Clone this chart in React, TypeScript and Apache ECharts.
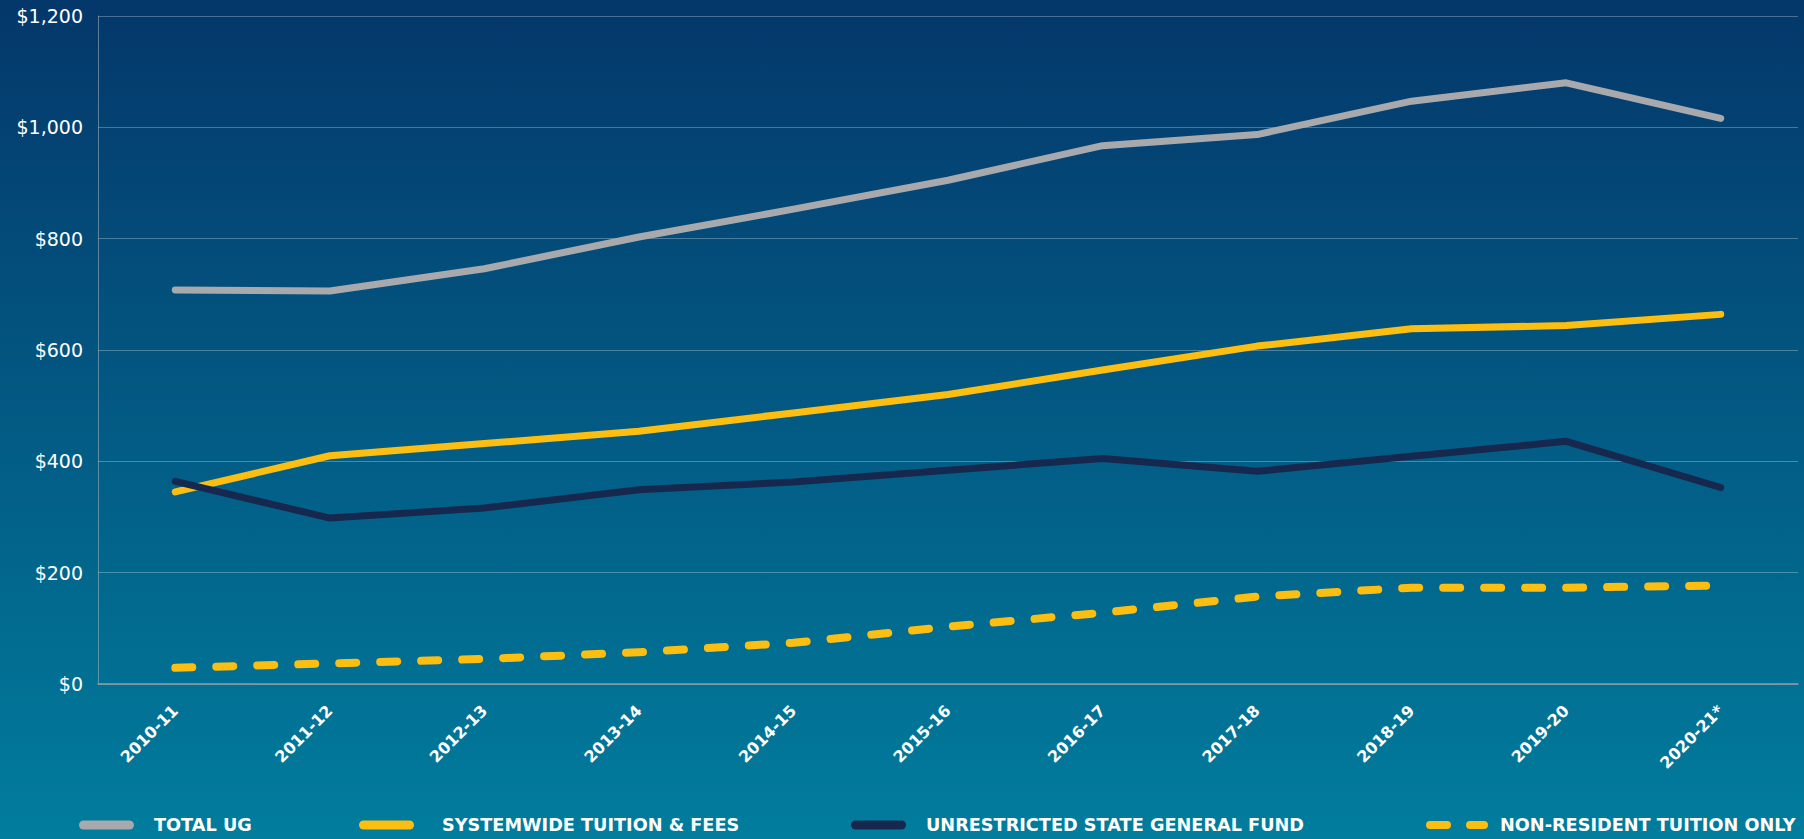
import React, { useEffect, useRef } from "react";
import * as echarts from "echarts";

const categories = ["2010-11", "2011-12", "2012-13", "2013-14", "2014-15", "2015-16", "2016-17", "2017-18", "2018-19", "2019-20", "2020-21*"];
const totalUG = [708, 706, 746, 803, 853, 905, 967, 987, 1047, 1080, 1016];
const systemwideTuition = [345, 410, 432, 454, 487, 520, 564, 607, 638, 644, 664];
const stateGeneralFund = [364, 298, 316, 349, 363, 384, 405, 382, 409, 436, 353];
const nonResidentTuition = [29, 37, 45, 57, 74, 103, 128, 157, 173, 173, 177];
const yTicks = [0, 200, 400, 600, 800, 1000, 1200];

const seriesNames = ["TOTAL UG", "SYSTEMWIDE TUITION & FEES", "UNRESTRICTED STATE GENERAL FUND", "NON-RESIDENT TUITION ONLY"];

const GRAY = "#A7A9AC";
const YELLOW = "#FDBE12";
const NAVY = "#17284F";
const FONT = "'DejaVu Sans', sans-serif";

const pill = "path://M4.5,0H50.5A4.5,4.5,0,0,1,50.5,9H4.5A4.5,4.5,0,0,1,4.5,0Z";
const dashPill = "path://M4,0H21A4,4,0,0,1,21,8H4A4,4,0,0,1,4,0ZM44,0H58A4,4,0,0,1,58,8H44A4,4,0,0,1,44,0Z";

export default function App() {
  const ref = useRef<HTMLDivElement>(null);
  useEffect(() => {
    if (!ref.current) return;
    const chart = echarts.init(ref.current, undefined, { renderer: "svg" });
    const legendBase = (name: string, left: number, icon: string, w: number, h: number, pad: number) => ({
      data: [name],
      left,
      top: 816,
      padding: 0,
      icon,
      itemWidth: w,
      itemHeight: h,
      itemStyle: { borderWidth: 0 },
      selectedMode: false,
      textStyle: {
        color: "#FFFFFF",
        fontFamily: FONT,
        fontWeight: "bold",
        fontSize: 17.7,
        padding: [0, 0, 0, pad],
      },
    });
    chart.setOption({
      animation: false,
      backgroundColor: new echarts.graphic.LinearGradient(0, 0, 0, 1, [
        { offset: 0, color: "#04376A" },
        { offset: 1, color: "#017D9D" },
      ]),
      textStyle: { fontFamily: FONT },
      grid: { left: 98, right: 6, top: 16, bottom: 155, containLabel: false },
      legend: [
        legendBase(seriesNames[0], 79, pill, 55, 9, 15),
        legendBase(seriesNames[1], 359, pill, 55, 9, 23),
        legendBase(seriesNames[2], 851, pill, 55, 9, 15),
        legendBase(seriesNames[3], 1426, dashPill, 62, 8, 7),
      ],
      xAxis: {
        type: "category",
        data: categories,
        boundaryGap: true,
        axisLine: { show: true, lineStyle: { color: "#8E9AA4", width: 1.5 } },
        axisTick: { show: false },
        axisLabel: {
          interval: 0,
          rotate: 45,
          margin: 24,
          color: "#FFFFFF",
          fontFamily: FONT,
          fontWeight: "bold",
          fontSize: 16,
        },
      },
      yAxis: {
        type: "value",
        min: yTicks[0],
        max: yTicks[yTicks.length - 1],
        interval: 200,
        axisLine: { show: true, lineStyle: { color: "rgba(170,180,190,0.55)", width: 1 } },
        axisTick: { show: false },
        axisLabel: {
          margin: 15,
          color: "#FFFFFF",
          fontFamily: FONT,
          fontSize: 19,
          formatter: (v: number) => "$" + v.toLocaleString("en-US"),
        },
        splitLine: { show: true, lineStyle: { color: "rgba(255,255,255,0.28)", width: 1 } },
      },
      series: [
        {
          name: seriesNames[0],
          type: "line",
          data: totalUG,
          symbol: "none",
          itemStyle: { color: GRAY },
          lineStyle: { color: GRAY, width: 7, cap: "round", join: "round" },
          z: 4,
        },
        {
          name: seriesNames[1],
          type: "line",
          data: systemwideTuition,
          symbol: "none",
          itemStyle: { color: YELLOW },
          lineStyle: { color: YELLOW, width: 7, cap: "round", join: "round" },
          z: 3,
        },
        {
          name: seriesNames[2],
          type: "line",
          data: stateGeneralFund,
          symbol: "none",
          itemStyle: { color: NAVY },
          lineStyle: { color: NAVY, width: 7, cap: "round", join: "round" },
          z: 5,
        },
        {
          name: seriesNames[3],
          type: "line",
          data: nonResidentTuition,
          symbol: "none",
          itemStyle: { color: YELLOW },
          lineStyle: { color: YELLOW, width: 8, type: [17, 24], cap: "round", join: "round" },
          z: 3,
        },
      ],
    });
    return () => chart.dispose();
  }, []);
  return (
    <div
      ref={ref}
      style={{ position: "fixed", left: 0, top: 0, width: 1804, height: 839 }}
    />
  );
}
